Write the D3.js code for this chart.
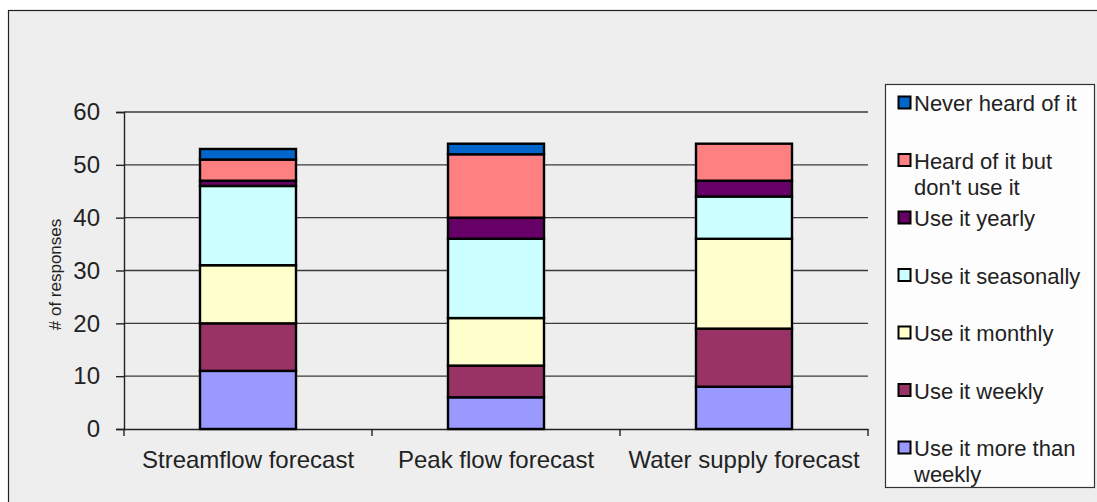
<!DOCTYPE html>
<html>
<head>
<meta charset="utf-8">
<script src="https://cdn.jsdelivr.net/npm/d3@7"></script>
<style>
  html, body { margin: 0; padding: 0; background: #ffffff; }
  svg { display: block; font-family: "Liberation Sans", Arial, sans-serif; }
</style>
</head>
<body>
<svg id="chart" width="1097" height="502"></svg>
<script>
// Survey responses per forecast product, stacked by frequency of use
const categories = ["Streamflow forecast", "Peak flow forecast", "Water supply forecast"];
const seriesNames = [
  "Use it more than weekly",
  "Use it weekly",
  "Use it monthly",
  "Use it seasonally",
  "Use it yearly",
  "Heard of it but don't use it",
  "Never heard of it"
];
const moreThanWeekly = [11, 6, 8];
const weekly = [9, 6, 11];
const monthly = [11, 9, 17];
const seasonally = [15, 15, 8];
const yearly = [1, 4, 3];
const heardNotUsed = [4, 12, 7];
const neverHeard = [2, 2, 0];
const yTicks = [0, 10, 20, 30, 40, 50, 60];
const seriesColors = ["#9999ff", "#993366", "#ffffcc", "#ccffff", "#660066", "#ff8080", "#0066cc"];
// legend lines (top to bottom)
const legendLines = [
  ["Never heard of it"],
  ["Heard of it but", "don't use it"],
  ["Use it yearly"],
  ["Use it seasonally"],
  ["Use it monthly"],
  ["Use it weekly"],
  ["Use it more than", "weekly"]
];

const seriesValues = [moreThanWeekly, weekly, monthly, seasonally, yearly, heardNotUsed, neverHeard];
const rows = categories.map((c, i) => {
  const r = { category: c };
  seriesNames.forEach((s, k) => { r[s] = seriesValues[k][i]; });
  return r;
});
const stacked = d3.stack().keys(seriesNames)(rows);

const svg = d3.select("#chart");

// chart frame
svg.append("rect")
  .attr("x", 8.5).attr("y", 10.5)
  .attr("width", 1100).attr("height", 500)
  .attr("fill", "#eeeeee").attr("stroke", "#222").attr("stroke-width", 1.2);

const plot = { left: 124, right: 868, top: 112, bottom: 429 };

const x = d3.scaleBand().domain(categories).range([plot.left, plot.right]).paddingInner(0).paddingOuter(0);
const y = d3.scaleLinear().domain([0, 60]).range([plot.bottom, plot.top]);

// gridlines
svg.append("g")
  .selectAll("line").data(yTicks.filter(t => t > 0)).join("line")
  .attr("x1", plot.left).attr("x2", plot.right)
  .attr("y1", d => y(d)).attr("y2", d => y(d))
  .attr("stroke", "#3a3a3a").attr("stroke-width", 1.4);

// y axis
const yAxis = svg.append("g")
  .attr("transform", `translate(${plot.left},0)`)
  .call(d3.axisLeft(y).tickValues(yTicks).tickSize(8).tickPadding(16));
yAxis.select(".domain").attr("stroke", "#222").attr("stroke-width", 1.4);
yAxis.selectAll(".tick line").attr("stroke", "#222").attr("stroke-width", 1.4);
yAxis.selectAll(".tick text")
  .attr("font-size", 24).attr("fill", "#222")
  .attr("font-family", "Liberation Sans, Arial, sans-serif");

// x axis
const xAxis = svg.append("g")
  .attr("transform", `translate(0,${plot.bottom})`)
  .call(d3.axisBottom(x).tickSize(0).tickPadding(22));
xAxis.select(".domain").attr("stroke", "#222").attr("stroke-width", 1.4);
xAxis.selectAll(".tick text")
  .attr("font-size", 24).attr("fill", "#222")
  .attr("font-family", "Liberation Sans, Arial, sans-serif");
// category separator ticks
const bounds = categories.map(c => x(c)).concat([x(categories[categories.length - 1]) + x.bandwidth()]);
svg.append("g").selectAll("line").data(bounds).join("line")
  .attr("x1", d => d).attr("x2", d => d)
  .attr("y1", plot.bottom).attr("y2", plot.bottom + 7)
  .attr("stroke", "#222").attr("stroke-width", 1.4);

// y axis title
svg.append("text")
  .attr("transform", `translate(61,${(plot.top + plot.bottom) / 2 + 4}) rotate(-90)`)
  .attr("text-anchor", "middle")
  .attr("font-size", 17).attr("fill", "#222")
  .text("# of responses");

// stacked bars
const barW = 96;
svg.append("g").selectAll("g").data(stacked).join("g")
  .attr("fill", (d, i) => seriesColors[i])
  .selectAll("rect").data(d => d.filter(p => p[1] - p[0] > 0)).join("rect")
  .attr("x", d => x(d.data.category) + x.bandwidth() / 2 - barW / 2)
  .attr("y", d => y(d[1]))
  .attr("width", barW)
  .attr("height", d => y(d[0]) - y(d[1]))
  .attr("stroke", "#000").attr("stroke-width", 2.4);

// legend
const legend = svg.append("g");
legend.append("rect")
  .attr("x", 885.5).attr("y", 84.5).attr("width", 209).attr("height", 403)
  .attr("fill", "#fdfdfd").attr("stroke", "#333").attr("stroke-width", 1.2);
const legendColors = seriesColors.slice().reverse();
const item = legend.selectAll("g.item").data(legendLines).join("g")
  .attr("class", "item")
  .attr("transform", (d, i) => `translate(898,${103 + i * 57.5})`);
item.append("rect")
  .attr("x", 0.5).attr("y", -6.5).attr("width", 12).attr("height", 12)
  .attr("fill", (d, i) => legendColors[i]).attr("stroke", "#000").attr("stroke-width", 2);
item.each(function(lines) {
  const g = d3.select(this);
  lines.forEach((t, j) => {
    g.append("text")
      .attr("x", 16).attr("y", 8 + j * 26)
      .attr("font-size", 22).attr("fill", "#222")
      .text(t);
  });
});
</script>
</body>
</html>
